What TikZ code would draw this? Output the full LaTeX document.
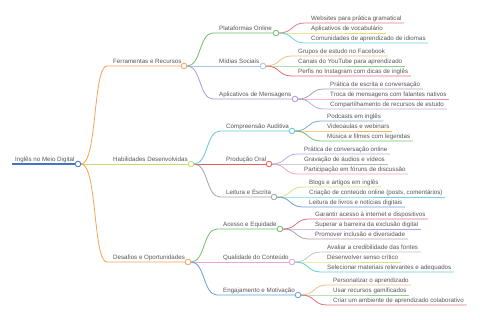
\documentclass[tikz,border=0pt]{standalone}
\usepackage{fontspec}
\setmainfont{Liberation Sans}
\usetikzlibrary{backgrounds,calc}
\definecolor{txt}{HTML}{555555}
\definecolor{cRoot}{HTML}{3F78C0}
\definecolor{cOr}{HTML}{F5A254}
\definecolor{cHab}{HTML}{C9D96A}
\definecolor{cP}{HTML}{6CBF6C}
\definecolor{cM}{HTML}{A9C6DD}
\definecolor{cA}{HTML}{A99AE0}
\definecolor{cC}{HTML}{5FC8E0}
\definecolor{cO}{HTML}{E06060}
\definecolor{cL}{HTML}{A8A0B0}
\definecolor{cE}{HTML}{6CC06C}
\definecolor{cQ}{HTML}{E8A0E0}
\definecolor{cG}{HTML}{60A0E0}
\tikzset{
  circ/.style={circle, fill=white, line width=0.8pt, minimum size=5.6pt, inner sep=0pt},
  lbl/.style={text=txt, font=\fontsize{6.2}{7}\selectfont, inner sep=0pt, anchor=base west},
  lnk/.style={line width=0.8pt},
}
\newcommand{\mmleaf}[5]{%
  \path (#2.center) ++(29,#3) coordinate (#1s);
  \node[lbl] (#1) at ([xshift=6pt,yshift=2.5pt]#1s) {#5};
  \begin{scope}[on background layer]
    \draw[lnk, draw=#4] (#2.east) .. controls +(14,0) and +(-14,0) .. (#1s) -- ([xshift=2.5pt]#1.east |- #1s);
  \end{scope}}
\begin{document}
\begin{tikzpicture}[x=1pt,y=-1pt]
\useasboundingbox (0,0) rectangle (480,320);
% root
\node[circ, draw=cRoot] (R) at (78,164) {};
\coordinate (Rs) at (12,164);
\node[lbl] (Rt) at (15,161.5) {Inglês no Meio Digital};
% level 1
\node[circ, draw=cOr] (F) at (184,66) {};
\coordinate (Fs) at (107,66);
\node[lbl] (Ft) at (113,63.5) {Ferramentas e Recursos};
\node[circ, draw=cHab] (H) at (191,164) {};
\node[lbl] (Ht) at (113,161.5) {Habilidades Desenvolvidas};
\node[circ, draw=cOr] (D) at (188,262) {};
\coordinate (Ds) at (107,262);
\node[lbl] (Dt) at (113,259.5) {Desafios e Oportunidades};
% level 2
\node[circ, draw=cP] (P) at (276,33) {};
\coordinate (Ps) at (213,33);
\node[lbl] (Pt) at (219,30.5) {Plataformas Online};
\node[circ, draw=cM] (M) at (263,66) {};
\node[lbl] (Mt) at (219,63.5) {Mídias Sociais};
\node[circ, draw=cA] (A) at (295,99) {};
\coordinate (As) at (213,99);
\node[lbl] (At) at (219,96.5) {Aplicativos de Mensagens};
\node[circ, draw=cC] (C) at (292,131) {};
\coordinate (Cs) at (220,131);
\node[lbl] (Ct) at (226,128.5) {Compreensão Auditiva};
\node[circ, draw=cO] (O) at (269,164) {};
\node[lbl] (Ot) at (226,161.5) {Produção Oral};
\node[circ, draw=cL] (L) at (274,197) {};
\coordinate (Ls) at (220,197);
\node[lbl] (Lt) at (226,194.5) {Leitura e Escrita};
\node[circ, draw=cE] (E) at (280,229) {};
\coordinate (Es) at (217,229);
\node[lbl] (Et) at (223,226.5) {Acesso e Equidade};
\node[circ, draw=cQ] (Q) at (292,262) {};
\node[lbl] (Qt) at (223,259.5) {Qualidade do Conteúdo};
\node[circ, draw=cG] (G) at (298,295) {};
\coordinate (Gs) at (217,295);
\node[lbl] (Gt) at (223,292.5) {Engajamento e Motivação};
\begin{scope}[on background layer]
\draw[lnk, draw=cRoot, line width=1.1pt] (Rs) -- (R.west);
\draw[lnk, draw=cOr] (R.east) .. controls +(16,0) and +(-14,0) .. (Fs) -- (F.west);
\draw[lnk, draw=cHab] (R.east) -- (H.west);
\draw[lnk, draw=cOr] (R.east) .. controls +(16,0) and +(-14,0) .. (Ds) -- (D.west);
\draw[lnk, draw=cP] (F.east) .. controls +(14,0) and +(-14,0) .. (Ps) -- (P.west);
\draw[lnk, draw=cM] (F.east) -- (M.west);
\draw[lnk, draw=cA] (F.east) .. controls +(14,0) and +(-14,0) .. (As) -- (A.west);
\draw[lnk, draw=cC] (H.east) .. controls +(14,0) and +(-14,0) .. (Cs) -- (C.west);
\draw[lnk, draw=cO] (H.east) -- (O.west);
\draw[lnk, draw=cL] (H.east) .. controls +(14,0) and +(-14,0) .. (Ls) -- (L.west);
\draw[lnk, draw=cE] (D.east) .. controls +(14,0) and +(-14,0) .. (Es) -- (E.west);
\draw[lnk, draw=cQ] (D.east) -- (Q.west);
\draw[lnk, draw=cG] (D.east) .. controls +(14,0) and +(-14,0) .. (Gs) -- (G.west);
\end{scope}
% leaves
\mmleaf{p1}{P}{-10}{{rgb,255:red,232;green,121;blue,138}}{Websites para prática gramatical}
\mmleaf{p2}{P}{0}{{rgb,255:red,227;green,220;blue,110}}{Aplicativos de vocabulário}
\mmleaf{p3}{P}{10}{{rgb,255:red,109;green,211;blue,227}}{Comunidades de aprendizado de idiomas}
\mmleaf{m1}{M}{-10}{{rgb,255:red,245;green,189;blue,133}}{Grupos de estudo no Facebook}
\mmleaf{m2}{M}{0}{{rgb,255:red,142;green,208;blue,142}}{Canais do YouTube para aprendizado}
\mmleaf{m3}{M}{10}{{rgb,255:red,227;green,109;blue,126}}{Perfis no Instagram com dicas de inglês}
\mmleaf{a1}{A}{-10}{{rgb,255:red,180;green,156;blue,180}}{Prática de escrita e conversação}
\mmleaf{a2}{A}{0}{{rgb,255:red,237;green,143;blue,181}}{Troca de mensagens com falantes nativos}
\mmleaf{a3}{A}{10}{{rgb,255:red,185;green,169;blue,227}}{Compartilhamento de recursos de estudo}
\mmleaf{c1}{C}{-10}{{rgb,255:red,126;green,168;blue,214}}{Podcasts em inglês}
\mmleaf{c2}{C}{0}{{rgb,255:red,245;green,178;blue,95}}{Videoaulas e webinars}
\mmleaf{c3}{C}{10}{{rgb,255:red,110;green,196;blue,110}}{Música e filmes com legendas}
\mmleaf{o1}{O}{-10}{{rgb,255:red,179;green,174;blue,230}}{Prática de conversação online}
\mmleaf{o2}{O}{0}{{rgb,255:red,179;green,179;blue,179}}{Gravação de áudios e vídeos}
\mmleaf{o3}{O}{10}{{rgb,255:red,242;green,165;blue,180}}{Participação em fóruns de discussão}
\mmleaf{l1}{L}{-10}{{rgb,255:red,212;green,225;blue,132}}{Blogs e artigos em inglês}
\mmleaf{l2}{L}{0}{{rgb,255:red,111;green,210;blue,234}}{Criação de conteúdo online (posts, comentários)}
\mmleaf{l3}{L}{10}{{rgb,255:red,108;green,159;blue,217}}{Leitura de livros e notícias digitais}
\mmleaf{e1}{E}{-10}{{rgb,255:red,227;green,111;blue,128}}{Garantir acesso à internet e dispositivos}
\mmleaf{e2}{E}{0}{{rgb,255:red,179;green,163;blue,227}}{Superar a barreira da exclusão digital}
\mmleaf{e3}{E}{10}{{rgb,255:red,179;green,160;blue,160}}{Promover inclusão e diversidade}
\mmleaf{q1}{Q}{-10}{{rgb,255:red,196;green,196;blue,196}}{Avaliar a credibilidade das fontes}
\mmleaf{q2}{Q}{0}{{rgb,255:red,217;green,227;blue,134}}{Desenvolver senso crítico}
\mmleaf{q3}{Q}{10}{{rgb,255:red,94;green,211;blue,211}}{Selecionar materiais relevantes e adequados}
\mmleaf{g1}{G}{-10}{{rgb,255:red,245;green,194;blue,131}}{Personalizar o aprendizado}
\mmleaf{g2}{G}{0}{{rgb,255:red,146;green,209;blue,146}}{Usar recursos gamificados}
\mmleaf{g3}{G}{10}{{rgb,255:red,227;green,112;blue,122}}{Criar um ambiente de aprendizado colaborativo}
\end{tikzpicture}
\end{document}
